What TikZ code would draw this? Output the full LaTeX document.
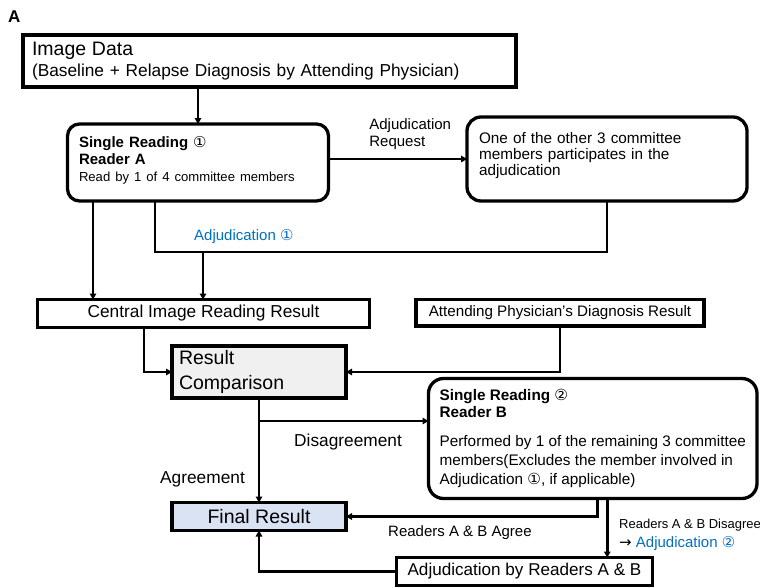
\documentclass[tikz,border=0pt]{standalone}
\usepackage{fontspec}
\setmainfont{Liberation Sans}
\newfontfamily\circfont{DejaVu Sans}
\usepackage{xcolor}
\usepackage{tikz}
\usetikzlibrary{calc,positioning,arrows.meta}

\definecolor{adjblue}{HTML}{0070C0}
\definecolor{cmpgray}{HTML}{F0F0F0}
\definecolor{finalblue}{HTML}{DAE3F3}

\newcommand{\circone}{{\circfont ①}}
\newcommand{\circtwo}{{\circfont ②}}

\begin{document}
\begin{tikzpicture}[x=1pt, y=-1pt,
    box/.style={draw, line width=3.3pt, outer sep=0pt, inner sep=0pt},
    roundbox/.style={box, rounded corners=12pt},
    wire/.style={line width=2.8pt},
    flow/.style={wire, -{Triangle[length=6pt, width=6.5pt]}},
    lbl/.style={inner sep=0pt, font=\fontsize{15}{17}\selectfont}]

    \useasboundingbox (0,0) rectangle (760,587);

    \node [anchor=base west, inner sep=0pt, font=\fontsize{17}{20}\selectfont\bfseries] (panel) at (8,22) {A};

    \node [box, anchor=north west, minimum width=493pt, minimum height=52pt, text width=475pt, inner xsep=9pt, align=left, font=\fontsize{17.3}{21}\selectfont] (imgdata) at (23,35) {{\fontsize{19.5}{21}\selectfont Image Data}\\(Baseline + Relapse Diagnosis by Attending Physician)};

    \node [roundbox, below right=37pt and 44.5pt of imgdata.south west, minimum width=261pt, minimum height=77pt, text width=238pt, inner xsep=11.5pt, align=left, font=\fontsize{15}{17}\selectfont] (reada) {\textbf{Single Reading} \circone\\\textbf{Reader A}\\{\fontsize{13.1}{16}\selectfont Read by 1 of 4 committee members}\rule[-8pt]{0pt}{8pt}};

    \node [roundbox, rounded corners=14pt, anchor=north west, minimum width=280pt, minimum height=84pt, text width=256pt, inner xsep=12pt, align=left, font=\fontsize{15.3}{16}\selectfont] (adjone) at (467,117) {One of the other 3 committee\\members participates in the\\adjudication\rule[-11pt]{0pt}{11pt}};

    \node [box, anchor=north west, minimum width=332pt, minimum height=28pt, font=\fontsize{17.3}{21}\selectfont] (central) at (37.5,299.5) {Central Image Reading Result};
    \node [box, anchor=north west, minimum width=288pt, minimum height=26.5pt, font=\fontsize{15.2}{18}\selectfont] (attend) at (416,299.5) {Attending Physician's Diagnosis Result};

    \node [box, fill=cmpgray, anchor=north west, minimum width=174pt, minimum height=52pt, text width=160pt, inner xsep=7pt, align=left, font=\fontsize{19.5}{25}\selectfont] (compare) at (172,346) {Result\\Comparison};

    \node [roundbox, rounded corners=15pt, anchor=north west, minimum width=328.5pt, minimum height=120pt, align=left, font=\fontsize{15.3}{19}\selectfont] (readb) at (428.5,378.5) {\textbf{Single Reading} \circtwo\\[-2pt]\textbf{Reader B}\\[10pt]Performed by 1 of the remaining 3 committee\\members(Excludes the member involved in\\Adjudication \circone, if applicable)};

    \node [box, fill=finalblue, below=104.5pt of compare, minimum width=174pt, minimum height=28pt, font=\fontsize{19.5}{22}\selectfont] (final) {Final Result};

    \node [box, anchor=north west, minimum width=256pt, minimum height=28pt, font=\fontsize{17.1}{20}\selectfont] (adjab) at (396.5,557.5) {Adjudication by Readers A \& B};

    % reader A and adjudication 1
    \draw [flow] (reada.north |- imgdata.south) -- (reada.north);
    \draw [flow] (reada.east |- adjone.west) -- node [lbl, pos=0.285, anchor=south west, yshift=8pt, align=left] (reqlbl) {Adjudication\\Request} (adjone.west);
    \draw [flow] ([xshift=-105pt]reada.south) -- ([xshift=-105pt]reada.south |- central.north);
    \draw [wire] ([xshift=-43pt]reada.south) |- ([yshift=-51pt]adjone.south) -- (adjone.south);
    \coordinate (adjmerge) at ([xshift=5pt, yshift=-51pt]reada.south);
    \draw [flow] (adjmerge) -- (adjmerge |- central.north);
    \node [lbl, text=adjblue, anchor=base west] (adjlblone) at (194,240) {Adjudication \circone};

    % comparison
    \draw [flow] ([xshift=-59.5pt]central.south) |- (compare.west);
    \draw [flow] (attend.south) |- (compare.east);

    \draw [flow] (compare) -- (final);
    \coordinate (split) at ([yshift=-23pt]compare.south);
    \draw [flow] (split) -- (split -| readb.west);
    \node [lbl, font=\fontsize{17.3}{20}\selectfont, anchor=base west] (disagree) at (294,446) {Disagreement};
    \node [lbl, font=\fontsize{17.3}{20}\selectfont, anchor=base west] (agree) at (160,483) {Agreement};

    % reader B
    \draw [flow] ([xshift=4.5pt]readb.south) |- (final.east);
    \node [lbl, anchor=base west] (agreeab) at (388,536) {Readers A \& B Agree};
    \draw [flow] ([xshift=14.5pt]readb.south) -- ([xshift=14.5pt]readb.south |- adjab.north);
    \node [lbl, font=\fontsize{15}{19}\selectfont, align=left, anchor=south west] (disagreeab) at (619,551) {{\fontsize{13}{19}\selectfont Readers A \& B Disagree}\\{\circfont →} \textcolor{adjblue}{Adjudication \circtwo}};
    \draw [flow] (adjab.west) -| (final.south);

\end{tikzpicture}
\end{document}
